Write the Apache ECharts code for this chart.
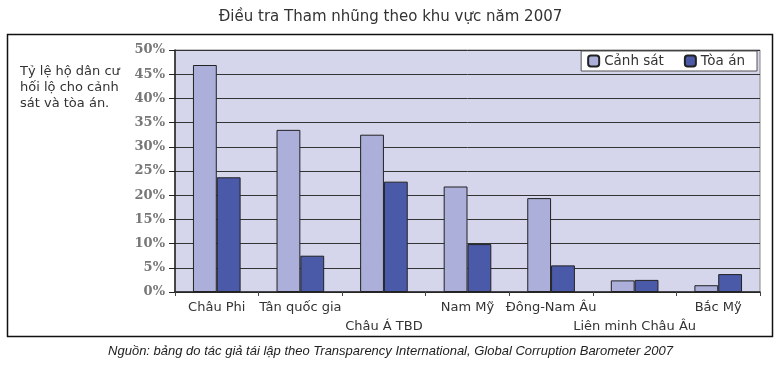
<!DOCTYPE html>
<html><head><meta charset="utf-8">
<script src="https://cdn.jsdelivr.net/npm/echarts@6/dist/echarts.min.js"></script>
<style>html,body{margin:0;padding:0;background:#fff}#c{width:781px;height:365px}</style>
</head><body><div id="c"></div>
<script>
const categories = ['Châu Phi','Tân quốc gia','Châu Á TBD','Nam Mỹ','Đông-Nam Âu','Liên minh Châu Âu','Bắc Mỹ'];
const policeValues = [46.9, 33.5, 32.5, 21.8, 19.4, 2.4, 1.4];
const courtValues = [23.7, 7.5, 22.8, 9.9, 5.5, 2.5, 3.7];
const seriesNames = ['Cảnh sát','Tòa án'];
const staggered = [2, 5];

const chart = echarts.init(document.getElementById('c'), null, {renderer:'canvas'});
chart.setOption({
  animation:false,
  backgroundColor:'#fff',
  title:{
    text:'Điều tra Tham nhũng theo khu vực năm 2007',
    left:'center', top:5,
    textStyle:{fontFamily:'DejaVu Sans', fontSize:15, fontWeight:'normal', color:'#333'}
  },
  graphic:[
    {type:'rect', shape:{x:7.5,y:34.5,width:765,height:302}, style:{fill:'none',stroke:'#111',lineWidth:1.5}, z:-1},
    {type:'text', left:20, top:64, style:{text:'Tỷ lệ hộ dân cư\nhối lộ cho cảnh\nsát và tòa án.', font:'13px "DejaVu Sans"', fill:'#333', lineHeight:16}},
    {type:'text', left:'center', top:345, style:{text:'Nguồn: bảng do tác giả tái lập theo Transparency International, Global Corruption Barometer 2007', font:'italic 13px "Liberation Sans Narrow", "Liberation Sans"', fill:'#222'}}
  ],
  legend:{
    right:24, top:51,
    itemWidth:11, itemHeight:11, itemGap:20,
    backgroundColor:'#fff', borderColor:'#555', borderWidth:1, padding:[3,12,3,6],
    textStyle:{fontFamily:'DejaVu Sans', fontSize:13.5, color:'#333'},
    data:seriesNames
  },
  grid:{left:175, right:21, top:50, bottom:73, show:true, backgroundColor:'#d5d5ec', borderColor:'#888', borderWidth:1},
  xAxis:{
    type:'category', data:categories,
    axisLine:{lineStyle:{color:'#222', width:1.5}},
    axisTick:{show:true, length:4, lineStyle:{color:'#444'}},
    axisLabel:{interval:0, fontFamily:'DejaVu Sans', fontSize:13, color:'#333', margin:6, lineHeight:19,
      formatter:function(v, i){ return staggered.indexOf(i) >= 0 ? '\n' + v : v; }}
  },
  yAxis:{
    type:'value', min:0, max:50, interval:5,
    axisLine:{show:true, lineStyle:{color:'#222', width:1.5}},
    axisTick:{show:true, length:6, lineStyle:{color:'#222'}},
    splitLine:{lineStyle:{color:'#333', width:1}},
    axisLabel:{fontFamily:'DejaVu Serif', fontWeight:'bold', fontSize:13, color:'#777', margin:10, formatter:'{value}%'}
  },
  series:[
    {name:seriesNames[0], type:'bar', data:policeValues, barGap:'0%', barCategoryGap:'43%',
     itemStyle:{color:'#abafd9', borderColor:'#222', borderWidth:1}},
    {name:seriesNames[1], type:'bar', data:courtValues,
     itemStyle:{color:'#4a5aa9', borderColor:'#222', borderWidth:1}}
  ]
});
</script></body></html>
